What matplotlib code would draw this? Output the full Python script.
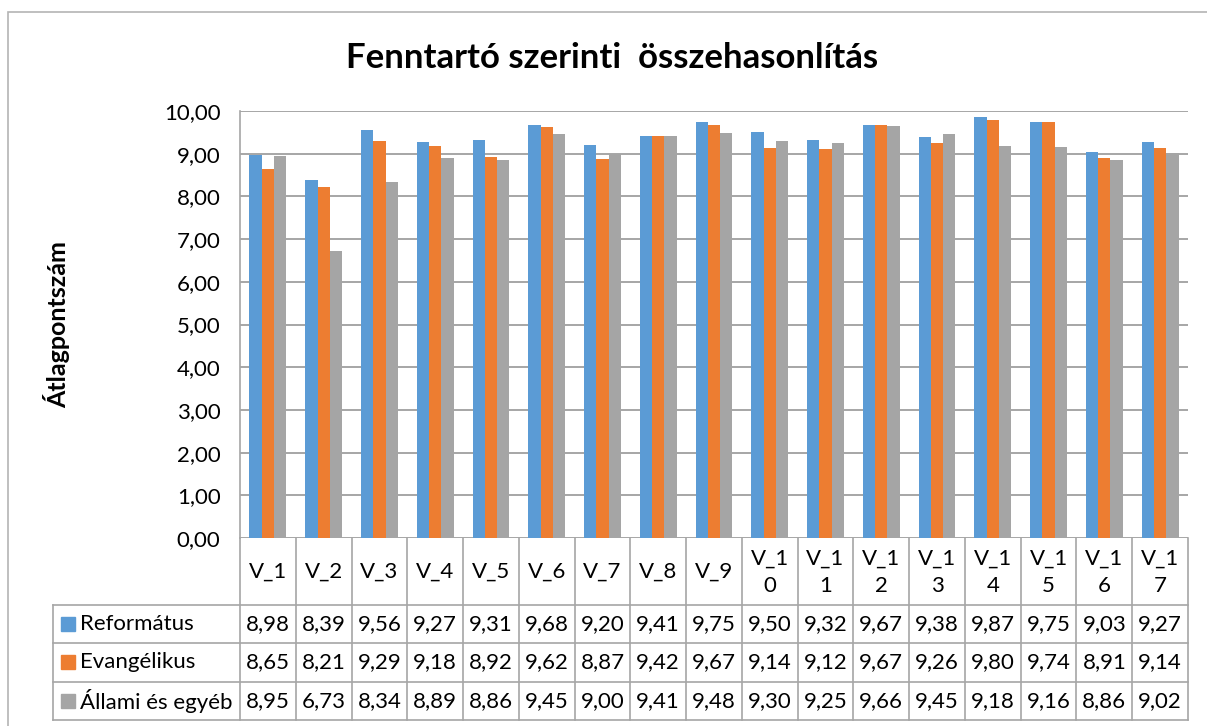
import numpy as np
import matplotlib.pyplot as plt
from matplotlib.transforms import blended_transform_factory
from matplotlib.patches import Rectangle

plt.rcParams['font.family'] = ['Lato', 'DejaVu Sans']

categories = ['V_1', 'V_2', 'V_3', 'V_4', 'V_5', 'V_6', 'V_7', 'V_8', 'V_9',
              'V_1\n0', 'V_1\n1', 'V_1\n2', 'V_1\n3', 'V_1\n4', 'V_1\n5',
              'V_1\n6', 'V_1\n7']
series_names = ['Református', 'Evangélikus', 'Állami és egyéb']
reformatus = [8.98, 8.39, 9.56, 9.27, 9.31, 9.68, 9.20, 9.41, 9.75,
              9.50, 9.32, 9.67, 9.38, 9.87, 9.75, 9.03, 9.27]
evangelikus = [8.65, 8.21, 9.29, 9.18, 8.92, 9.62, 8.87, 9.42, 9.67,
               9.14, 9.12, 9.67, 9.26, 9.80, 9.74, 8.91, 9.14]
allami = [8.95, 6.73, 8.34, 8.89, 8.86, 9.45, 9.00, 9.41, 9.48,
          9.30, 9.25, 9.66, 9.45, 9.18, 9.16, 8.86, 9.02]
colors = ['#5B9BD5', '#ED7D31', '#A5A5A5']

W, H = 1207, 726
fig = plt.figure(figsize=(W / 100, H / 100), dpi=100)


def fx(px):
    return px / W


def fy(py):
    return 1 - py / H


# outer chart frame
fig.add_artist(Rectangle((fx(8), fy(760)), fx(1230 - 8), fy(12) - fy(760),
                         transform=fig.transFigure, fill=False,
                         edgecolor='#b4b4b4', linewidth=1.2))

left, right, top, bottom = 240, 1188, 111, 538
ax = fig.add_axes([fx(left), fy(bottom), fx(right - left), fy(top) - fy(bottom)])

x = np.arange(len(categories))
w = 0.22
series = [reformatus, evangelikus, allami]
for i, vals in enumerate(series):
    ax.bar(x + (i - 1) * w, vals, width=w, color=colors[i], zorder=3,
           edgecolor='none')

ax.set_xlim(-0.5, len(categories) - 0.5)
ax.set_ylim(0, 10)
ax.set_yticks(np.arange(0, 11, 1))
ax.set_yticklabels([f'{v:.2f}'.replace('.', ',') for v in np.arange(0, 11, 1)],
                   fontsize=16)
ax.tick_params(axis='y', length=0, pad=14)
ax.set_xticks([])
ax.grid(axis='y', color='#a6a6a6', linewidth=1.4, zorder=0)
for s in ['top', 'right', 'bottom']:
    ax.spines[s].set_visible(False)
ax.spines['left'].set_color('#a6a6a6')
ax.spines['left'].set_linewidth(1.2)

fig.text(fx(57), fy(325), 'Átlagpontszám', rotation=90, ha='center',
         va='center', fontsize=18, fontweight='bold')

fig.text(0.507, fy(58), 'Fenntartó szerinti  összehasonlítás', ha='center',
         va='center', fontsize=25, fontweight='bold')

# data table below the plot
tr = blended_transform_factory(ax.transData, fig.transFigure)
line_kw = dict(color='#a6a6a6', linewidth=1.2, clip_on=False, zorder=5)
row_lines = [605, 643, 682, 720]
for b in np.arange(-0.5, len(categories), 1):
    ax.plot([b, b], [fy(bottom), fy(720)], transform=tr, **line_kw)
for ry in row_lines:
    fig.add_artist(plt.Line2D([fx(53), fx(right)], [fy(ry), fy(ry)],
                              transform=fig.transFigure, **line_kw))
fig.add_artist(plt.Line2D([fx(53), fx(53)], [fy(605), fy(720)],
                          transform=fig.transFigure, **line_kw))

for i, cat in enumerate(categories):
    ax.text(i, fy(572), cat, transform=tr, ha='center', va='center',
            fontsize=16, linespacing=1.45)

row_centers = [624, 662, 701]
for r, vals in enumerate(series):
    fig.add_artist(Rectangle((fx(61), fy(row_centers[r] + 7)), fx(14),
                             fy(row_centers[r] - 7) - fy(row_centers[r] + 7),
                             transform=fig.transFigure, color=colors[r]))
    fig.text(fx(80), fy(row_centers[r]), series_names[r], fontsize=16,
             va='center', ha='left')
    for i, v in enumerate(vals):
        ax.text(i, fy(row_centers[r]), f'{v:.2f}'.replace('.', ','),
                transform=tr, ha='center', va='center', fontsize=16)

fig.savefig('out.png', dpi=100)
